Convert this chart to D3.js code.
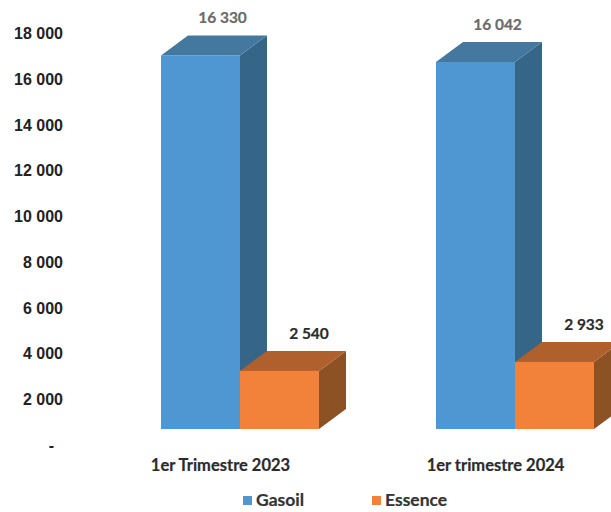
<!DOCTYPE html>
<html lang="en">
<head>
    <meta charset="UTF-8">
    <title>Gasoil / Essence</title>
    <script src="https://d3js.org/d3.v7.min.js"></script>
    <style>
        html, body { margin: 0; padding: 0; background: #fff; overflow: hidden; }
        svg { display: block; }
        .axis text { font-family: "Liberation Sans", sans-serif; font-weight: 700; font-size: 16px; fill: #222; }
        .cat { font-family: Lato, sans-serif; font-weight: 700; font-size: 16.5px; fill: #2b2b2b; stroke: #2b2b2b; stroke-width: 0.2px; }
        .val { font-family: Lato, sans-serif; font-weight: 700; font-size: 15.5px; stroke: currentColor; stroke-width: 0.2px; }
        .leg { font-family: Lato, sans-serif; font-weight: 700; font-size: 17.5px; fill: #333; stroke: #333; stroke-width: 0.2px; }
    </style>
</head>
<body>
<svg id="chart" width="611" height="512"></svg>
<script>
    let categories = ["1er Trimestre 2023", "1er trimestre 2024"];
    let seriesNames = ["Gasoil", "Essence"];
    let gasoil = [16330, 16042];
    let essence = [2540, 2933];
    let yTicks = [0, 2000, 4000, 6000, 8000, 10000, 12000, 14000, 16000, 18000];

    let colors = {
        Gasoil: { front: "#4f97d2", top: "#44789f", side: "#356688", label: "#6a6a6a" },
        Essence: { front: "#f28239", top: "#b0602c", side: "#8d5224", label: "#2b2b2b" }
    };

    // depth of the fake 3d boxes
    let depthX = 27, depthY = 20;

    let svg = d3.select("#chart");

    let y = d3.scaleLinear().domain([0, 18000]).range([429, 17.2]);
    let x0 = d3.scaleBand().domain(categories).range([102.5, 652.5]);
    let x1 = d3.scaleBand().domain(seriesNames).range([58.5, 216.5]);

    let fmt = function (d) {
        return d === 0 ? "-" : d3.format(",")(d).replace(/,/g, " ");
    };

    let axis = d3.axisLeft(y).tickValues(yTicks).tickFormat(fmt).tickSize(0).tickPadding(0);
    let axisG = svg.append("g")
        .attr("class", "axis")
        .attr("transform", "translate(63,16.3)")
        .call(axis);
    axisG.select(".domain").remove();
    // the dash for zero sits a bit to the right of the numbers
    axisG.selectAll(".tick text").filter(d => d === 0).attr("x", -9);

    let rows = [];
    categories.forEach(function (c, i) {
        rows.push({ cat: c, name: "Gasoil", value: gasoil[i] });
        rows.push({ cat: c, name: "Essence", value: essence[i] });
    });

    let bars = svg.selectAll("g.box")
        .data(rows)
        .join("g")
        .attr("class", "box")
        .attr("transform", d => "translate(" + (x0(d.cat) + x1(d.name)) + ",0)");

    let w = x1.bandwidth();

    // side face
    bars.append("path")
        .attr("fill", d => colors[d.name].side)
        .attr("d", d => d3.line()([
            [w, y(d.value)], [w + depthX, y(d.value) - depthY],
            [w + depthX, y(0) - depthY], [w, y(0)]
        ]) + "Z");

    // top face
    bars.append("path")
        .attr("fill", d => colors[d.name].top)
        .attr("d", d => d3.line()([
            [0, y(d.value)], [depthX, y(d.value) - depthY],
            [w + depthX, y(d.value) - depthY], [w, y(d.value)]
        ]) + "Z");

    // front face
    bars.append("rect")
        .attr("width", w)
        .attr("y", d => y(d.value))
        .attr("height", d => y(0) - y(d.value))
        .attr("fill", d => colors[d.name].front);

    // value labels
    bars.append("text")
        .attr("class", "val")
        .attr("text-anchor", "middle")
        .attr("x", d => w / 2 + (d.name === "Gasoil" ? 22 : 29.5))
        .attr("y", d => y(d.value) - 32)
        .attr("fill", d => colors[d.name].label)
        .style("color", d => colors[d.name].label)
        .text(d => fmt(d.value));

    // category labels
    svg.selectAll("text.cat")
        .data(categories)
        .join("text")
        .attr("class", "cat")
        .attr("text-anchor", "middle")
        .attr("x", d => x0(d) + 118)
        .attr("y", 471)
        .text(d => d);

    // legend
    let legendX = d3.scaleOrdinal().domain(seriesNames).range([243, 372]);
    let leg = svg.selectAll("g.legend")
        .data(seriesNames)
        .join("g")
        .attr("class", "legend")
        .attr("transform", d => "translate(" + legendX(d) + ",496)");
    leg.append("rect")
        .attr("width", 9)
        .attr("height", 9)
        .attr("fill", d => colors[d].front);
    leg.append("text")
        .attr("class", "leg")
        .attr("x", 13)
        .attr("y", 10)
        .text(d => d);
</script>
</body>
</html>
